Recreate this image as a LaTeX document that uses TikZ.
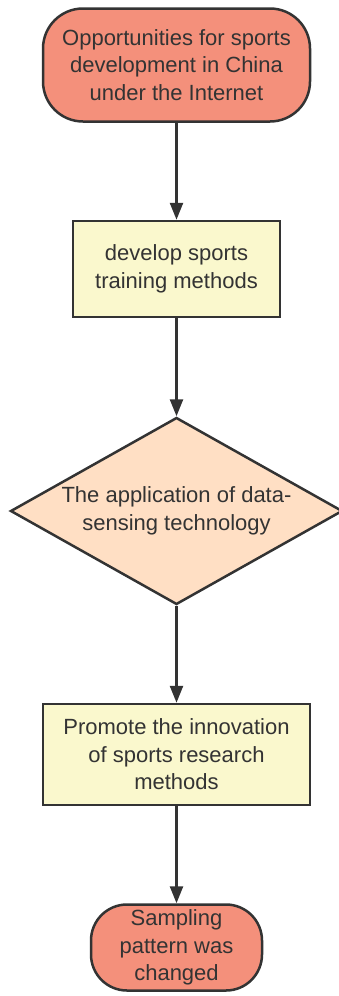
\documentclass[tikz,border=0pt]{standalone}
\usepackage{fontspec}
\setmainfont{Liberation Sans}
\usetikzlibrary{positioning,arrows.meta,shapes.geometric}
\definecolor{salmonfill}{RGB}{244,144,123}
\definecolor{paleyellow}{RGB}{250,248,205}
\definecolor{peachfill}{RGB}{255,223,196}
\definecolor{inkgray}{RGB}{51,51,51}
\tikzset{flecha/.style={line width=2.5pt, draw=inkgray, -{Triangle[length=17pt,width=13pt]}}}
\tikzset{caja/.style={rectangle, draw=inkgray, line width=2.5pt, fill=paleyellow, align=center, inner sep=0pt}}
\tikzset{terminal/.style={rectangle, draw=inkgray, line width=2.5pt, fill=salmonfill, align=center, inner sep=0pt}}

\begin{document}
\begin{tikzpicture}[x=1pt, y=1pt, node distance=97pt, every node/.style={text=inkgray, font=\fontsize{22}{27.5}\selectfont}]
            \useasboundingbox (0,0) rectangle (339,-996);
            \node[terminal, rounded corners=40pt, minimum width=267pt, minimum height=113pt] (inicio) at (176.5,-65) {Opportunities for sports\\development in China\\under the Internet};
            \node[caja, minimum width=207pt, minimum height=96pt, below=of inicio] (entreno) {develop sports\\training methods};
            \node[diamond, draw=inkgray, line width=2.5pt, fill=peachfill, align=center, inner sep=0pt, aspect=1.78, minimum width=332pt, minimum height=187pt, below=98pt of entreno] (datos) {The application of data-\\sensing technology};
            \node[caja, minimum width=267pt, minimum height=101pt, below=of datos] (innova) {Promote the innovation\\of sports research\\methods};
            \node[terminal, rounded corners=36pt, minimum width=171pt, minimum height=86pt, below=of innova] (fin) {Sampling\\pattern was\\changed};

            \draw[flecha] (inicio) to (entreno);
            \draw[flecha] (entreno) to (datos);
            \draw[flecha] (datos) to (innova);
            \draw[flecha] (innova) to (fin);
        \end{tikzpicture}
\end{document}
